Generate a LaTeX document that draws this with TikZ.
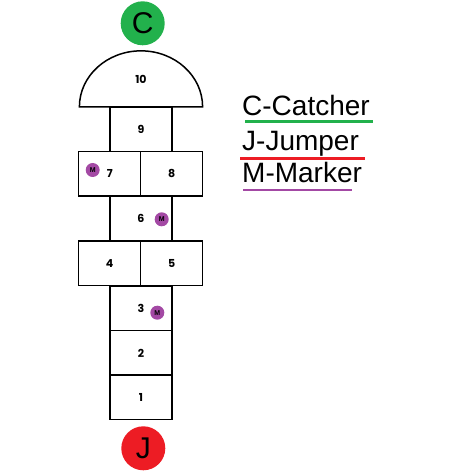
\documentclass[tikz,border=0pt]{standalone}
\usepackage{fontspec}
\setmainfont{Liberation Sans}
\newfontfamily\numfont{Poppins}
\definecolor{catchergreen}{RGB}{34,177,76}
\definecolor{jumperred}{RGB}{237,28,36}
\definecolor{markerpurple}{RGB}{163,73,164}

\begin{document}
\begin{tikzpicture}
    [
        x=1pt, y=-1pt,
        box/.style={draw, line width=1.5pt, outer sep=0pt, minimum width=62pt, minimum height=44.7pt, inner sep=0pt, font=\numfont\bfseries\fontsize{11}{12}\selectfont},
        player/.style={circle, minimum size=44pt, inner sep=0pt, font=\fontsize{30}{30}\selectfont},
        marker/.style={circle, fill=markerpurple, minimum size=14pt, inner sep=0pt, font=\bfseries\fontsize{7}{7}\selectfont},
        legend/.style={anchor=base west, inner sep=0pt, font=\fontsize{28}{28}\selectfont},
        underline/.style={line width=2.5pt}
    ]
    \useasboundingbox (0,0) rectangle (474,473);

    \node[box] (b1) at (141,397.2) {1};
    \node[box] (b2) at (141,352.9) {2};
    \node[box] (b3) at (141,308.2) {3};
    \node[box] (b4) at (109.7,263.2) {4};
    \node[box] (b5) at (171.7,263.2) {5};
    \node[box] (b6) at (141,218.4) {6};
    \node[box] (b7) at (109.7,173.9) {7};
    \node[box] (b8) at (171.7,173.9) {8};
    \node[box] (b9) at (141,129.2) {9};
    \draw[line width=1.5pt] ([xshift=-61.6pt]b9.north) arc[start angle=180, end angle=0, x radius=61.6pt, y radius=56pt] -- cycle;
    \node[font=\numfont\bfseries\fontsize{11}{12}\selectfont] (b10) at (141,79) {10};

    \node[marker] (m7) at (92.7,170) {M};
    \node[marker] (m6) at (161.7,219.3) {M};
    \node[marker] (m3) at (157.3,312.7) {M};

    \node[player, fill=catchergreen] (catcher) at (142.7,23.3) {C};
    \node[player, fill=jumperred] (jumper) at (143.3,448.3) {J};

    \node[legend] (lc) at (242,116) {C-Catcher};
    \node[legend] (lj) at (242,151) {J-Jumper};
    \node[legend] (lm) at (242,183) {M-Marker};
    \draw[underline, catchergreen] (245,121.7) -- (373,121.7);
    \draw[underline, jumperred] (240,158.3) -- (365,158.3);
    \draw[underline, markerpurple] (243,190) -- (352,190);
\end{tikzpicture}
\end{document}
